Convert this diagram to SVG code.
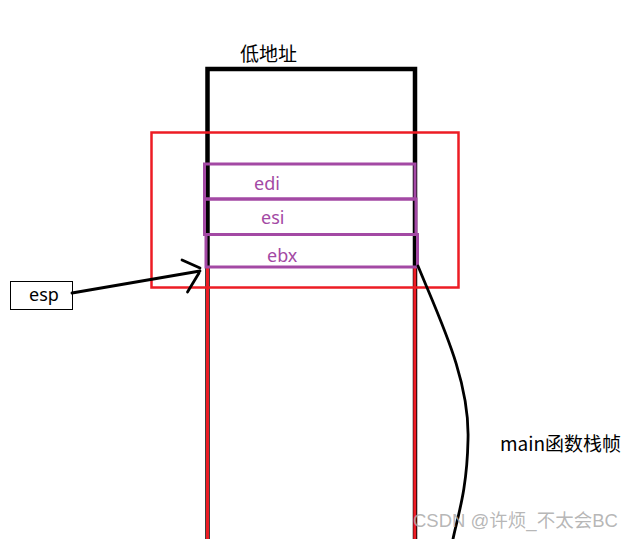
<svg xmlns="http://www.w3.org/2000/svg" width="634" height="539" viewBox="0 0 634 539">
<style>
.t{font-family:"Noto Sans","Noto Sans CJK SC",sans-serif;font-size:18px;fill:#000}
.c{font-family:"Noto Sans CJK SC",sans-serif;font-size:19px;fill:#000}
.p{font-family:"Noto Sans","Noto Sans CJK SC",sans-serif;font-size:18px;fill:#a349a4}
.box{fill:none;stroke:#a349a4;stroke-width:3}
.blk{fill:none;stroke:#000;stroke-width:4.5}
.red{fill:none;stroke:#ed1c24;stroke-width:2.5}
.ln{fill:none;stroke:#000;stroke-width:2.8;stroke-linecap:round}
</style>
<rect width="634" height="539" fill="#fff"/>
<g id="stack">
<path class="blk" d="M207.5 539 V69 H415 V539"/>
<path fill="none" stroke="#ed1c24" stroke-width="3" d="M207.5 268 V539 M414.8 268 V539"/>
</g>
<g id="frame">
<rect x="151.5" y="132.5" width="307" height="155" class="red"/>
</g>
<g id="low-label"><text class="c" x="240" y="61">低地址</text></g>
<g id="edi"><rect class="box" x="204.5" y="164" width="210.5" height="35"/><text class="p" x="254" y="190">edi</text></g>
<g id="esi"><rect class="box" x="204.5" y="199" width="211.5" height="35.5"/><text class="p" x="261" y="224">esi</text></g>
<g id="ebx"><rect class="box" x="206" y="234.5" width="211.5" height="32.5"/><text class="p" x="267" y="262">ebx</text></g>
<g id="esp"><rect x="10.5" y="281.5" width="62" height="28" fill="#fff" stroke="#000" stroke-width="1"/><text class="t" x="29" y="301">esp</text></g>
<g id="main-label"><text class="c" x="500" y="451">main函数栈帧</text></g>
<g id="connectors">
<path class="ln" d="M72 293 L200 271"/>
<path class="ln" d="M182 260 L200 268 M187.5 292 L199 273"/>
<path class="ln" d="M418 266 C440 320 470 380 468 440 C467 490 458 515 453 539"/>
</g>
<text x="413" y="527" font-family="Liberation Sans,'Noto Sans CJK SC',sans-serif" font-size="18.5" fill="#aaa" fill-opacity="0.85">CSDN @许烦_不太会BC</text>
</svg>
